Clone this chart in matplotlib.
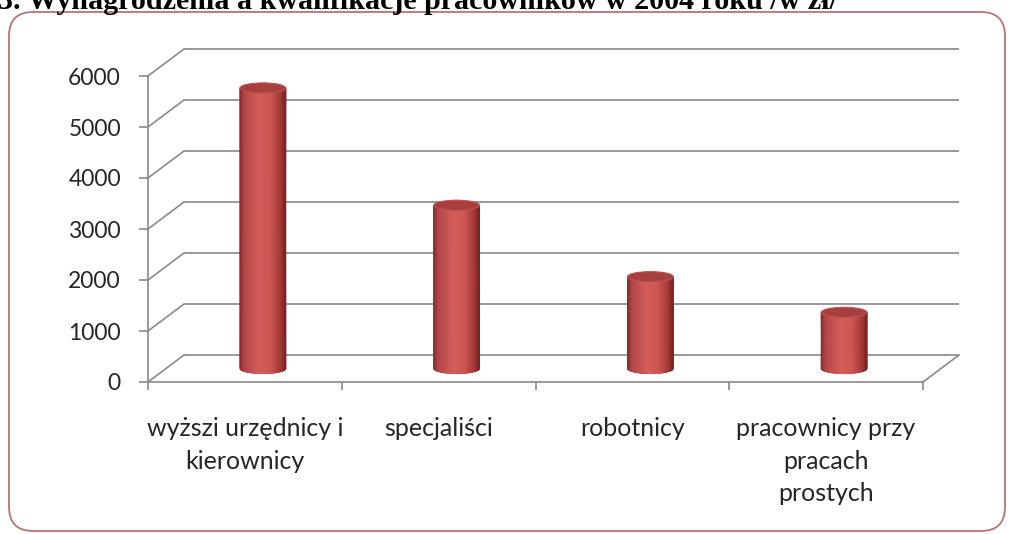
import numpy as np
import matplotlib
matplotlib.use('Agg')
import matplotlib.pyplot as plt
from matplotlib.patches import Ellipse, FancyBboxPatch, Polygon
from matplotlib.colors import LinearSegmentedColormap

# ---- data ----
categories = ['wyższi urzędnicy i\nkierownicy', 'specjaliści', 'robotnicy',
              'pracownicy przy\npracach\nprostych']
values = [5500, 3200, 1800, 1100]
yticks = [0, 1000, 2000, 3000, 4000, 5000, 6000]
title = '3. Wynagrodzenia a kwalifikacje pracowników w 2004 roku /w zł/'

# ---- figure ----
W, H, DPI = 1009, 534, 100
fig = plt.figure(figsize=(W / DPI, H / DPI), dpi=DPI)
fig.patch.set_facecolor('white')
AXW, AXH = 775, 306
ax = fig.add_axes([148 / W, 152 / H, AXW / W, AXH / H])
ax.patch.set_visible(False)
ncat = len(categories)
ax.set_xlim(0, ncat)
ax.set_ylim(0, yticks[-1])

GRID = '#898989'
TXT = '#262626'
# depth of the fake 3D box, in data units (from pixel offsets)
ddx = 36 * ncat / AXW
ddy = 27 * yticks[-1] / AXH

# floor
ax.add_patch(Polygon([(0, 0), (ncat, 0), (ncat + ddx, ddy), (ddx, ddy)],
                     closed=True, facecolor='white', edgecolor='none',
                     zorder=0.5, clip_on=False))
# back wall gridlines and side-wall diagonals
for yv in yticks:
    ax.plot([ddx, ncat + ddx], [yv + ddy, yv + ddy], color=GRID, lw=1.2,
            zorder=1, clip_on=False, solid_capstyle='butt')
    ax.plot([0, ddx], [yv, yv + ddy], color=GRID, lw=1.2, zorder=1,
            clip_on=False)
ax.plot([ncat, ncat + ddx], [0, ddy], color=GRID, lw=1.2, zorder=1,
        clip_on=False)

# cylinders
cyl_cmap = LinearSegmentedColormap.from_list(
    'cyl', [(0.0, '#872b29'), (0.1, '#b3464a'), (0.42, '#d45d5a'),
            (0.68, '#cd5653'), (0.9, '#a33937'), (1.0, '#7a2321')])
w = 0.236
eh = 200
base = ddy / 2
for i, v in enumerate(values):
    c = i + 0.5 + ddx / 2
    xs = np.linspace(c - w / 2, c + w / 2, 80)
    t = np.linspace(0, 1, 80)
    yb = base - eh / 2 * np.sqrt(np.clip(1 - ((xs - c) / (w / 2)) ** 2, 0, 1))
    X = np.vstack([xs, xs])
    Y = np.vstack([yb, np.full_like(xs, base + v)])
    C = np.vstack([t, t])
    ax.pcolormesh(X, Y, C, cmap=cyl_cmap, shading='gouraud', vmin=0, vmax=1,
                  zorder=3, clip_on=False)
    ax.add_patch(Ellipse((c, base + v), w, eh, facecolor='#a63f3d',
                         edgecolor='#bf5350', lw=0.8, zorder=4, clip_on=False))

ax.set_xlim(0, ncat)
ax.set_ylim(0, yticks[-1])

# axes
for s in ['top', 'right']:
    ax.spines[s].set_visible(False)
for s in ['left', 'bottom']:
    ax.spines[s].set_color(GRID)
    ax.spines[s].set_linewidth(1.2)
    ax.spines[s].set_zorder(5)
ax.set_yticks(yticks)
ax.set_yticklabels([str(t) for t in yticks])
ax.tick_params(axis='y', direction='out', length=6.5, width=1.2, color=GRID,
               labelcolor=TXT, labelsize=16.5, pad=13)
for lab in ax.get_yticklabels():
    lab.set_fontfamily('Lato')
ax.set_xticks(range(ncat + 1))
ax.set_xticklabels([])
ax.tick_params(axis='x', which='major', direction='out', length=6, width=1.2,
               color=GRID)
ax.set_xticks([i + 0.5 for i in range(ncat)], minor=True)
ax.set_xticklabels(categories, minor=True)
ax.tick_params(axis='x', which='minor', length=0, pad=25.5, labelcolor=TXT,
               labelsize=18)
for lab in ax.get_xticklabels(minor=True):
    lab.set_fontfamily('Lato')
    lab.set_linespacing(1.5)
    lab.set_va('top')
    lab.set_ha('center')

# title (cut at the top edge, as in the source)
fig.text(-2 / W, (H - 9) / H, title, fontfamily='Liberation Serif',
         fontweight='bold', fontsize=21.6, va='baseline', ha='left',
         color='black')

# rounded frame
frame = FancyBboxPatch((9 / DPI, 3 / DPI), 996 / DPI, 519 / DPI,
                       boxstyle='round,pad=0,rounding_size=0.24',
                       transform=fig.dpi_scale_trans, fill=False,
                       edgecolor='#b87474', lw=1.3)
fig.add_artist(frame)

fig.savefig('out.png', dpi=DPI, facecolor='white')
